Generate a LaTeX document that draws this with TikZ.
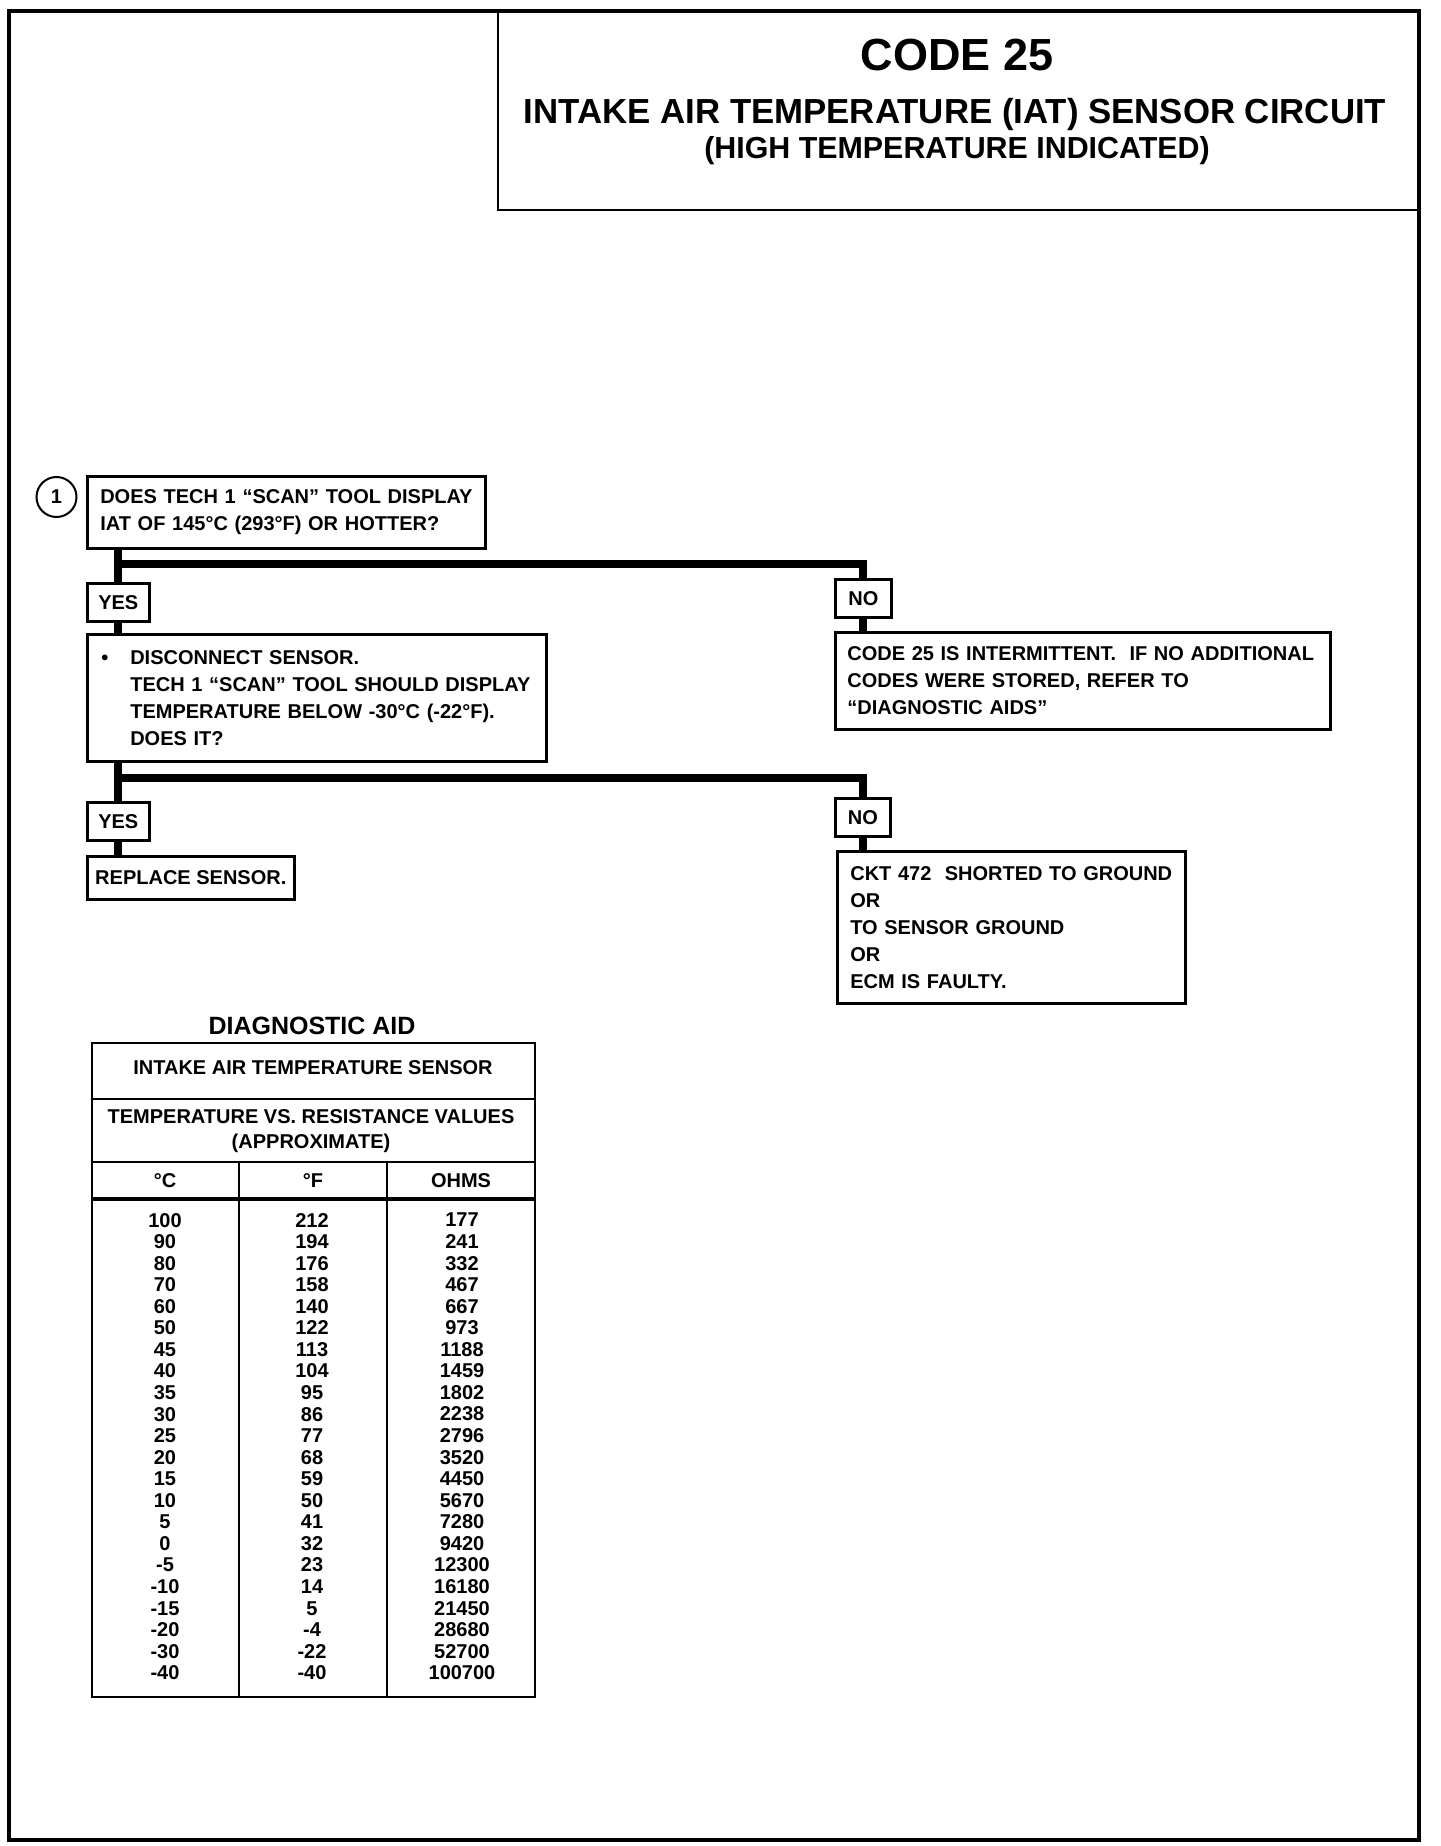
\documentclass[tikz,border=0pt]{standalone}
\usepackage{fontspec}
\setmainfont{Liberation Sans}
\usetikzlibrary{positioning}

\newcommand{\chartfont}{\bfseries\fontsize{10}{13.5}\selectfont}
\newcommand{\tablefont}{\bfseries\fontsize{10}{10.78}\selectfont}
\newcommand{\bulletitem}{\makebox[14.5pt][l]{\textbullet}}
\newcommand{\bulletskip}{\hspace*{14.5pt}}

\tikzset{
  chartbox/.style={draw, line width=1.3pt, anchor=north west, align=left, font=\chartfont, inner ysep=0pt},
  answer/.style={draw, line width=1.3pt, anchor=north west, font=\chartfont, inner sep=0pt},
  flow/.style={line width=4pt},
  heading/.style={anchor=base, font=\bfseries},
  tabline/.style={line width=1pt},
  tabcol/.style={font=\tablefont, align=center},
}

\begin{document}
\begin{tikzpicture}[x=0.5pt, y=-0.5pt]
  \fill[white] (0,0) rectangle (1440,1846);
  \useasboundingbox (0,0) rectangle (1440,1846);
  % page frame and title block
  \draw[line width=2pt] (9,11) rectangle (1419,1840);
  \draw[line width=1.3pt] (498,11) rectangle (1419,210);
  \node[heading, font=\bfseries\fontsize{22.5}{27}\selectfont] (code) at (957,71) {CODE 25};
  \node[heading, font=\bfseries\fontsize{17.4}{21}\selectfont] (circuit) at (955,124) {INTAKE AIR TEMPERATURE (IAT) SENSOR CIRCUIT};
  \node[heading, font=\bfseries\fontsize{15.2}{18}\selectfont] (highT) at (957,159) {(HIGH TEMPERATURE INDICATED)};

  % step 1
  \node[circle, draw, line width=1pt, minimum size=20pt, inner sep=0pt, font=\chartfont] (mark1) at (56.5,497) {1};
  \node[chartbox, text width=186pt, inner xsep=6.5pt, minimum height=36pt] (q1) at (86,475)
    {\mbox{DOES TECH 1 “SCAN” TOOL DISPLAY}\\\mbox{IAT OF 145°C (293°F) OR HOTTER?}};
  \node[answer, minimum width=31pt, minimum height=19pt] (yes1) at (86,582) {YES};
  \node[answer, minimum width=28pt, minimum height=19pt] (no1) at (834,578) {NO};
  \node[chartbox, text width=215.5pt, inner xsep=7pt, minimum height=63.5pt] (q2) at (86,633)
    {\bulletitem DISCONNECT SENSOR.\\
     \bulletskip\mbox{TECH 1 “SCAN” TOOL SHOULD DISPLAY}\\
     \bulletskip TEMPERATURE BELOW -30°C (-22°F).\\
     \bulletskip DOES IT?};
  \node[chartbox, text width=235.5pt, inner xsep=6pt, minimum height=48.5pt] (r1) at (834,631)
    {\mbox{CODE 25 IS INTERMITTENT.\ \ IF NO ADDITIONAL}\\CODES WERE STORED, REFER TO\\“DIAGNOSTIC AIDS”};

  % step 2
  \node[answer, minimum width=31pt, minimum height=19pt] (yes2) at (86,801) {YES};
  \node[answer, minimum width=103.5pt, minimum height=21.5pt] (fix) at (86,855) {REPLACE SENSOR.};
  \node[answer, minimum width=27.5pt, minimum height=19pt] (no2) at (834,797) {NO};
  \node[chartbox, text width=161pt, inner xsep=6.5pt, minimum height=76pt] (r2) at (836,850)
    {\mbox{CKT 472\ \ SHORTED TO GROUND}\\OR\\TO SENSOR GROUND\\OR\\ECM IS FAULTY.};

  % branches
  \coordinate (fork1) at (117,564);
  \draw[flow] (q1.south -| yes1.north) -- (yes1.north);
  \draw[flow] (fork1) -| (no1.north);
  \draw[flow] (yes1.south) -- (yes1.south |- q2.north);
  \draw[flow] (no1.south) -- (no1.south |- r1.north);
  \coordinate (fork2) at (117,778);
  \draw[flow] (q2.south -| yes2.north) -- (yes2.north);
  \draw[flow] (fork2) -| (no2.north);
  \draw[flow] (yes2.south) -- (yes2.south |- fix.north);
  \draw[flow] (no2.south) -- (no2.south |- r2.north);

  % diagnostic aid table
  \node[heading, font=\bfseries\fontsize{12.5}{15}\selectfont] (aid) at (312,1034) {DIAGNOSTIC AID};
  \draw[tabline] (92,1043) rectangle (535,1697);
  \draw[tabline] (92,1099) -- (535,1099);
  \draw[tabline] (92,1162) -- (535,1162);
  \draw[line width=1.6pt] (92,1199) -- (535,1199);
  \draw[tabline] (239,1162) -- (239,1697);
  \draw[tabline] (387,1162) -- (387,1697);
  \node[heading, font=\chartfont] (sensor) at (313,1074) {INTAKE AIR TEMPERATURE SENSOR};
  \node[font=\bfseries\fontsize{10}{12.5}\selectfont, align=center] (values) at (311,1131)
    {TEMPERATURE VS. RESISTANCE VALUES\\(APPROXIMATE)};
  \node[heading, font=\chartfont] (hc) at (165,1187) {°C};
  \node[heading, font=\chartfont] (hf) at (313,1187) {°F};
  \node[heading, font=\chartfont] (ho) at (461,1187) {OHMS};
  \node[tabcol] (colc) at (165,1446.5)
    {100\\90\\80\\70\\60\\50\\45\\40\\35\\30\\25\\20\\15\\10\\5\\0\\-5\\-10\\-15\\-20\\-30\\-40};
  \node[tabcol] (colf) at (312,1446.5)
    {212\\194\\176\\158\\140\\122\\113\\104\\95\\86\\77\\68\\59\\50\\41\\32\\23\\14\\5\\-4\\-22\\-40};
  \node[tabcol] (colo) at (462,1446.5)
    {177\\241\\332\\467\\667\\973\\1188\\1459\\1802\\2238\\2796\\3520\\4450\\5670\\7280\\9420\\12300\\16180\\21450\\28680\\52700\\100700};
\end{tikzpicture}
\end{document}
